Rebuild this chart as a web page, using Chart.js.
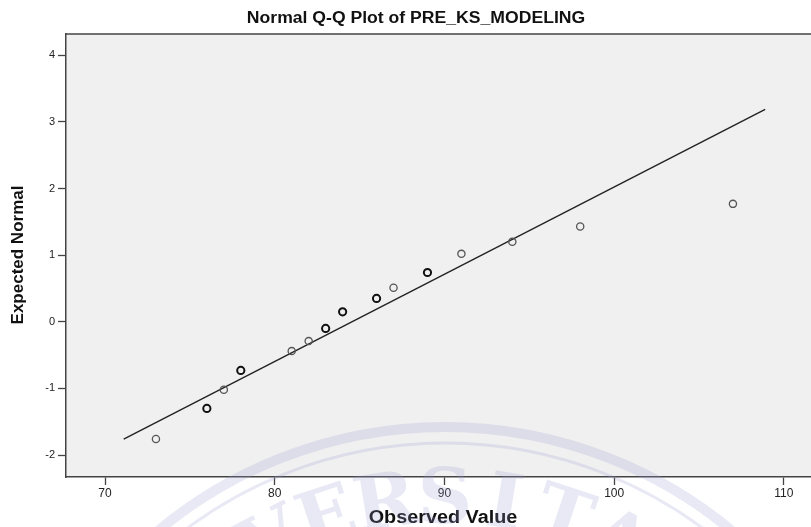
<!DOCTYPE html>
<html lang="en">
<head>
    <meta charset="UTF-8">
    <title>Normal Q-Q Plot of PRE_KS_MODELING</title>
    <script src="https://cdn.jsdelivr.net/npm/chart.js"></script>
    <style>
        body {
            margin: 0;
            background-color: white;
        }
        #wrap {
            width: 811px;
            height: 527px;
        }
    </style>
</head>
<body>
    <div id="wrap"><canvas id="qqChart"></canvas></div>

    <script>
        // Valeurs
        const observed = [73, 76, 77, 78, 81, 82, 83, 84, 86, 87, 89, 91, 94, 98, 107];
        const expected = [-1.76, -1.30, -1.02, -0.73, -0.44, -0.29, -0.10, 0.15, 0.35, 0.51, 0.74, 1.02, 1.20, 1.43, 1.77];
        const cases = [1, 2, 1, 2, 1, 1, 2, 2, 2, 1, 2, 1, 1, 1, 1];
        const lineX = [71.1, 108.9];
        const lineY = [-1.76, 3.19];
        const xTicks = [70, 80, 90, 100, 110];
        const yTicks = [-2, -1, 0, 1, 2, 3, 4];

        const titleText = 'Normal Q-Q Plot of PRE_KS_MODELING';
        const xTitle = 'Observed Value';
        const yTitle = 'Expected Normal';

        const points = observed.map((x, i) => ({x: x, y: expected[i]}));
        const linePoints = lineX.map((x, i) => ({x: x, y: lineY[i]}));

        // texte étiré horizontalement comme dans l'image d'origine
        function stretchedText(c, txt, x, y, sx) {
            c.save();
            c.translate(x, y);
            c.scale(sx, 1);
            c.fillText(txt, 0, 0);
            c.restore();
        }

        // fond, titre, filigrane
        const decor = {
            id: 'decor',
            beforeDraw(chart) {
                const c = chart.ctx;
                const a = chart.chartArea;
                c.save();
                c.fillStyle = 'white';
                c.fillRect(0, 0, chart.width, chart.height);
                c.fillStyle = '#f0f0f0';
                c.fillRect(a.left, a.top, a.right - a.left, a.bottom - a.top);
                c.restore();
            },
            afterDraw(chart) {
                const c = chart.ctx;
                const a = chart.chartArea;
                c.save();
                // bord haut
                c.strokeStyle = '#444';
                c.lineWidth = 1.5;
                c.beginPath();
                c.moveTo(a.left, a.top);
                c.lineTo(a.right, a.top);
                c.stroke();

                c.fillStyle = '#111';
                c.textAlign = 'center';
                c.textBaseline = 'middle';
                c.font = 'bold 16px "Liberation Sans", Arial, sans-serif';
                stretchedText(c, titleText, 416, 19, 1.1);
                c.font = 'bold 18px "Liberation Sans", Arial, sans-serif';
                stretchedText(c, xTitle, 443, 518, 1.1);
                c.font = 'bold 17px "Liberation Sans", Arial, sans-serif';
                c.translate(18, 255);
                c.rotate(-Math.PI / 2);
                c.fillText(yTitle, 0, 0);
                c.restore();

                // filigrane
                c.save();
                c.globalAlpha = 0.22;
                c.strokeStyle = '#9a9ad8';
                c.fillStyle = '#9a9ad8';
                const cx = 445, cy = 875;
                c.lineWidth = 10;
                c.beginPath();
                c.arc(cx, cy, 448, 0, Math.PI * 2);
                c.stroke();
                c.lineWidth = 3;
                c.beginPath();
                c.arc(cx, cy, 432, 0, Math.PI * 2);
                c.stroke();
                c.font = 'bold 76px "DejaVu Serif", serif';
                c.textAlign = 'center';
                c.textBaseline = 'middle';
                const word = 'UNIVERSITAS';
                for (let i = 0; i < word.length; i++) {
                    const ang = (i - 6) * 0.16;
                    c.save();
                    c.translate(cx + 372 * Math.sin(ang), cy - 372 * Math.cos(ang));
                    c.rotate(ang);
                    c.fillText(word[i], 0, 0);
                    c.restore();
                }
                c.restore();
            }
        };

        const ctx = document.getElementById('qqChart').getContext('2d');

        new Chart(ctx, {
            type: 'scatter',
            data: {
                datasets: [
                    {
                        label: 'Observed',
                        data: points,
                        pointStyle: 'circle',
                        pointRadius: 3.6,
                        pointHoverRadius: 3.6,
                        backgroundColor: 'rgba(0,0,0,0)',
                        borderColor: cases.map(n => n > 1 ? '#111' : '#555'),
                        borderWidth: cases.map(n => n > 1 ? 2 : 1.3)
                    },
                    {
                        label: 'Line',
                        data: linePoints,
                        showLine: true,
                        pointRadius: 0,
                        borderColor: '#222',
                        borderWidth: 1.4
                    }
                ]
            },
            options: {
                responsive: true,
                maintainAspectRatio: false,
                animation: false,
                layout: {
                    autoPadding: false,
                    padding: {top: 34, left: 0, right: 0, bottom: 0}
                },
                plugins: {
                    legend: {display: false},
                    tooltip: {enabled: false}
                },
                scales: {
                    x: {
                        type: 'linear',
                        min: 67.7,
                        max: 111.6,
                        afterFit: s => {
                            s.height = 50;
                            s.paddingLeft = 0;
                            s.paddingRight = 0;
                        },
                        afterBuildTicks: s => { s.ticks = xTicks.map(v => ({value: v})); },
                        grid: {
                            drawOnChartArea: false,
                            drawTicks: true,
                            tickLength: 8,
                            tickColor: '#444',
                            tickWidth: 1.3
                        },
                        border: {display: true, color: '#444', width: 1.5},
                        ticks: {
                            color: '#222',
                            padding: 1,
                            maxRotation: 0,
                            font: {family: '"Liberation Sans", Arial, sans-serif', size: 12}
                        }
                    },
                    y: {
                        type: 'linear',
                        min: -2.33,
                        max: 4.32,
                        afterFit: s => {
                            s.width = 66;
                            s.paddingTop = 0;
                            s.paddingBottom = 0;
                        },
                        afterBuildTicks: s => { s.ticks = yTicks.map(v => ({value: v})); },
                        grid: {
                            drawOnChartArea: false,
                            drawTicks: true,
                            tickLength: 8,
                            tickColor: '#444',
                            tickWidth: 1.3
                        },
                        border: {display: true, color: '#444', width: 1.5},
                        ticks: {
                            color: '#222',
                            padding: 3,
                            font: {family: '"Liberation Sans", Arial, sans-serif', size: 11}
                        }
                    }
                }
            },
            plugins: [decor]
        });
    </script>
</body>
</html>
